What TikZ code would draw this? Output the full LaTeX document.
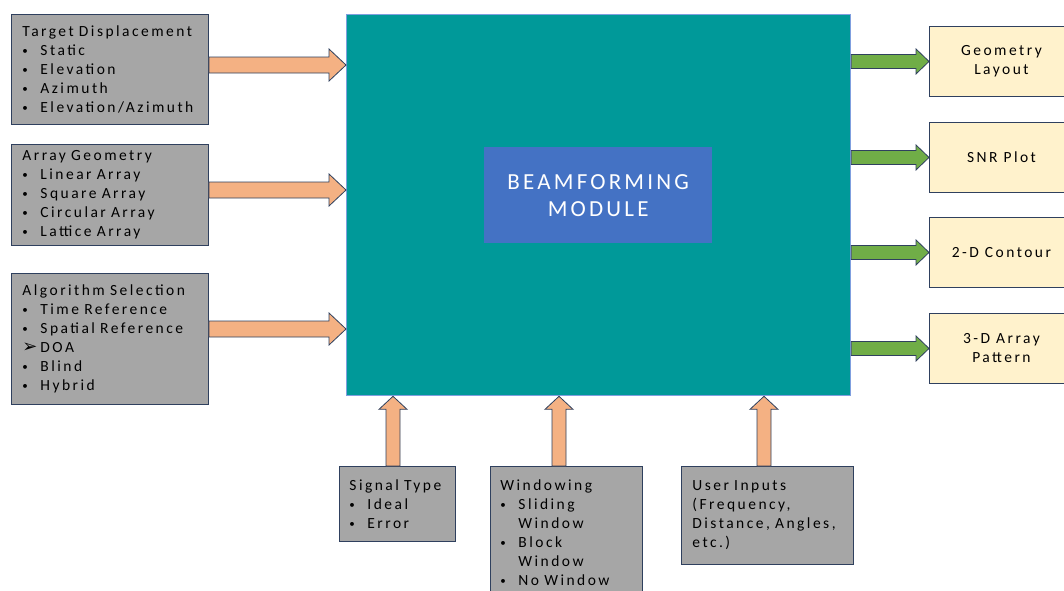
\documentclass[tikz,border=0pt]{standalone}
\usepackage{fontspec}
\setmainfont{Carlito}
\newfontfamily\boxfont[LetterSpace=16]{Carlito}
\newfontfamily\titlefont[LetterSpace=14]{Carlito}
\newfontfamily\symfont{DejaVu Sans}
\usetikzlibrary{calc}

\definecolor{teal}{HTML}{009999}
\definecolor{mainedge}{HTML}{7F9FDF}
\definecolor{coreblue}{HTML}{4472C4}
\definecolor{boxgray}{HTML}{A6A6A6}
\definecolor{navy}{HTML}{2F405E}
\definecolor{peach}{HTML}{F4B183}
\definecolor{leaf}{HTML}{70AD47}
\definecolor{cream}{HTML}{FFF2CC}

% list entries inside the grey input boxes
\newcommand\dotmark{\raisebox{1pt}{\fontsize{11}{11}\selectfont •}}
\newcommand\itm[1]{\makebox[18pt][l]{\dotmark}#1}
\newcommand\arr[1]{\makebox[18pt][l]{\symfont\fontsize{18}{18}\selectfont ➢}#1}
\newcommand\cont[1]{\hspace*{18pt}#1}

% thick block arrows: start point, end point
\newcommand\inarrow[2]{%
  \path[peacharrow] let \p1=(#1), \p2=(#2) in
    (\x1,\y1+8pt) -- (\x2-17pt,\y1+8pt) -- (\x2-17pt,\y1+16pt) -- (\x2,\y1)
    -- (\x2-17pt,\y1-16pt) -- (\x2-17pt,\y1-8pt) -- (\x1,\y1-8pt) -- cycle;}
\newcommand\riseArrow[2]{%
  \path[peacharrow] let \p1=(#1), \p2=(#2) in
    (\x1-7pt,\y1) -- (\x1-7pt,\y2-13pt) -- (\x1-14pt,\y2-13pt) -- (\x1,\y2)
    -- (\x1+14pt,\y2-13pt) -- (\x1+7pt,\y2-13pt) -- (\x1+7pt,\y1) -- cycle;}
\newcommand\outarrow[2]{%
  \path[leafarrow] let \p1=(#1), \p2=(#2) in
    (\x1,\y1+7pt) -- (\x2-13pt,\y1+7pt) -- (\x2-13pt,\y1+12.5pt) -- (\x2,\y1)
    -- (\x2-13pt,\y1-12.5pt) -- (\x2-13pt,\y1-7pt) -- (\x1,\y1-7pt) -- cycle;}

\tikzset{
  boxtext/.style={font=\boxfont\fontsize{15.5}{19}\selectfont},
  inbox/.style={boxtext, draw=navy, line width=0.9pt, fill=boxgray,
    anchor=north west, align=left, inner xsep=11pt, inner ysep=0pt},
  outbox/.style={boxtext, draw=navy, line width=0.9pt, fill=cream,
    anchor=north west, align=center, minimum width=144pt, minimum height=70pt},
  peacharrow/.style={draw=navy, line width=0.8pt, fill=peach, line join=miter},
  leafarrow/.style={draw=navy, line width=0.8pt, fill=leaf, line join=miter},
}

\begin{document}
\begin{tikzpicture}[x=1pt, y=-1pt]
\useasboundingbox (0,0) rectangle (1064,590);
\clip (0,0) rectangle (1064,590);
\fill[white] (0,0) rectangle (1064,590);

% central module
\node[draw=mainedge, line width=1.3pt, fill=teal, anchor=north west,
      minimum width=504pt, minimum height=381pt, inner sep=0pt] (main) at (346,14) {};
\node[fill=coreblue, anchor=north west, minimum width=228pt, minimum height=96pt,
      inner sep=0pt, text=white, align=center,
      font=\titlefont\fontsize{23}{27}\selectfont] (core) at (484,147)
      {BEAMFORMING\\MODULE};

% inputs on the left
\node[inbox, text width=175pt, minimum height=110pt] (target) at (11,14)
  {Target Displacement\\\itm{Static}\\\itm{Elevation}\\\itm{Azimuth}\\\itm{Elevation/Azimuth}};
\node[inbox, text width=175pt, minimum height=101pt] (geom) at (11,144)
  {Array Geometry\\\itm{Linear Array}\\\itm{Square Array}\\\itm{Circular Array}\\\itm{Lattice Array}};
\node[inbox, text width=175pt, minimum height=131pt] (algo) at (11,273)
  {Algorithm Selection\\\itm{Time Reference}\\\itm{Spatial Reference}\\\arr{DOA}\\\itm{Blind}\\\itm{Hybrid}};

% inputs below
\node[inbox, inner xsep=10pt, text width=96pt, minimum height=75pt] (signal) at (339,466)
  {Signal Type\\\itm{Ideal}\\\itm{Error}};
\node[inbox, inner xsep=10pt, text width=132pt, minimum height=132pt] (window) at (490,466)
  {Windowing\\\itm{Sliding}\\\cont{Window}\\\itm{Block}\\\cont{Window}\\\itm{No Window}};
\node[inbox, text width=150pt, minimum height=98pt] (user) at (681,466)
  {User Inputs\\(Frequency,\\Distance, Angles,\\etc.)};

% outputs on the right
\node[outbox] (layout) at (929,26) {Geometry\\Layout};
\node[outbox] (snr) at (929,122) {SNR Plot};
\node[outbox] (contour) at (929,217) {2-D Contour};
\node[outbox] (pattern) at (929,313) {3-D Array\\Pattern};

% arrow guide positions
\coordinate (tA) at (0,65);
\coordinate (gA) at (0,190);
\coordinate (aA) at (0,329);
\coordinate (sA) at (393,0);
\coordinate (wA) at (559,0);
\coordinate (uA) at (764,0);

\inarrow{target.east |- tA}{main.west |- tA}
\inarrow{geom.east |- gA}{main.west |- gA}
\inarrow{algo.east |- aA}{main.west |- aA}

\riseArrow{signal.north -| sA}{main.south -| sA}
\riseArrow{window.north -| wA}{main.south -| wA}
\riseArrow{user.north -| uA}{main.south -| uA}

\outarrow{main.east |- layout.west}{layout.west}
\outarrow{main.east |- snr.west}{snr.west}
\outarrow{main.east |- contour.west}{contour.west}
\outarrow{main.east |- pattern.west}{pattern.west}
\end{tikzpicture}
\end{document}
